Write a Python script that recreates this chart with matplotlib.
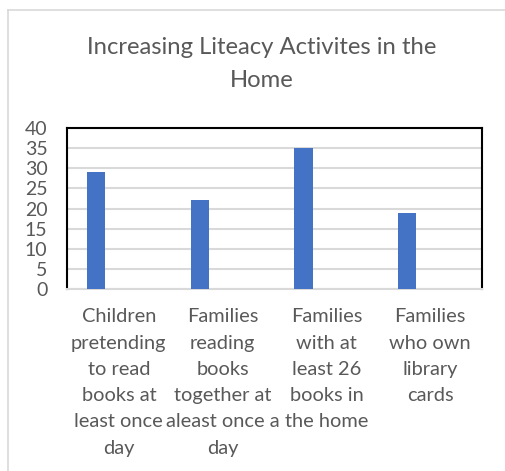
import matplotlib
matplotlib.use("Agg")
from matplotlib import pyplot as plt
from matplotlib.lines import Line2D
import numpy as np

plt.rcParams['font.family'] = ['Lato', 'DejaVu Sans']

title = "Increasing Liteacy Activites in the\nHome"
categories = ["Children\npretending\nto read\nbooks at\nleast once\nday",
              "Families\nreading\nbooks\ntogether at\naleast once a\nday",
              "Families\nwith at\nleast 26\nbooks in\nthe home",
              "Families\nwho own\nlibrary\ncards"]
values = [29, 22, 35, 19]
y_ticks = [0, 5, 10, 15, 20, 25, 30, 35, 40]

text_col = "#595959"
grid_col = "#d9d9d9"
bar_col = "#4472C4"

W, H = 506, 471
fig = plt.figure(figsize=(W / 100, H / 100), dpi=100)
ax = fig.add_axes([67 / W, 1 - 289 / H, (482 - 67) / W, (289 - 128) / H])

x = np.arange(len(categories))
ax.bar(x - 0.22, values, width=0.175, color=bar_col, zorder=3)

ax.set_xlim(-0.5, len(categories) - 0.5)
ax.set_ylim(0, 40)
ax.set_yticks(y_ticks)
ax.set_xticks(x)
ax.set_xticklabels(categories, multialignment='center', linespacing=1.66)
ax.tick_params(axis='y', length=0, pad=14, labelsize=14, labelcolor=text_col)
ax.tick_params(axis='x', length=0, pad=14, labelsize=14.4, labelcolor=text_col)
ax.yaxis.grid(True, color=grid_col, linewidth=1.5, zorder=0)
ax.set_axisbelow(True)

for s in ['top', 'left', 'right']:
    ax.spines[s].set_color('black')
    ax.spines[s].set_linewidth(1.5)
ax.spines['bottom'].set_color(grid_col)
ax.spines['bottom'].set_linewidth(1.5)

fig.text(262 / W, 1 - 64 / H, title, ha='center', va='center', fontsize=17.2,
         color=text_col, linespacing=1.75)

# light chart frame
fig.add_artist(Line2D([8 / W, 1], [1 - 10 / H, 1 - 10 / H], color=grid_col, lw=1.2))
fig.add_artist(Line2D([8 / W, 8 / W], [0, 1 - 10 / H], color=grid_col, lw=1.2))

fig.savefig("out.png", dpi=100)
